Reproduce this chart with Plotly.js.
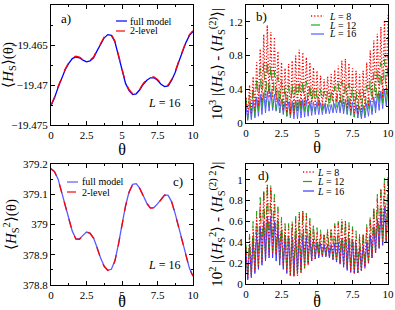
<!DOCTYPE html>
<html>
<head>
<meta charset="utf-8">
<script src="https://cdn.plot.ly/plotly-3.0.1.min.js"></script>
<style>
html,body{margin:0;padding:0;background:#fff;}
#chart{width:395px;height:310px;}
#chart svg text{font-family:"Liberation Serif","Times New Roman",serif !important;}
</style>
</head>
<body>
<div id="chart"></div>
<script>
// ---------- data ----------
const theta = [0,0.25,0.5,0.75,1,1.25,1.5,1.75,2,2.25,2.5,2.75,3,3.25,3.5,3.75,4,4.25,4.5,4.75,5,5.25,5.5,5.75,6,6.25,6.5,6.75,7,7.25,7.5,7.75,8,8.25,8.5,8.75,9,9.25,9.5,9.75,10];
const thetaMid = [0.125,0.375,0.625,0.875,1.125,1.375,1.625,1.875,2.125,2.375,2.625,2.875,3.125,3.375,3.625,3.875,4.125,4.375,4.625,4.875,5.125,5.375,5.625,5.875,6.125,6.375,6.625,6.875,7.125,7.375,7.625,7.875,8.125,8.375,8.625,8.875,9.125,9.375,9.625,9.875];

// panel a: <H_S>(theta), L = 16
const aFull = [-19.4726,-19.4716,-19.4703,-19.4691,-19.4681,-19.4673,-19.4667,-19.4665,-19.4666,-19.4669,-19.4671,-19.4670,-19.4666,-19.4657,-19.4648,-19.4641,-19.4637,-19.4638,-19.4646,-19.4663,-19.4683,-19.4698,-19.4707,-19.4712,-19.4711,-19.4706,-19.4699,-19.4694,-19.4691,-19.4691,-19.4694,-19.4699,-19.4702,-19.4701,-19.4694,-19.4684,-19.4671,-19.4658,-19.4647,-19.4638,-19.4633];
const aTwo  = [-19.4725,-19.4715,-19.4702,-19.4690,-19.4680,-19.4672,-19.4666,-19.4664,-19.4665,-19.4668,-19.4670,-19.4669,-19.4665,-19.4656,-19.4647,-19.4640,-19.4636,-19.4637,-19.4645,-19.4662,-19.4682,-19.4697,-19.4706,-19.4711,-19.4710,-19.4705,-19.4698,-19.4693,-19.4690,-19.4690,-19.4693,-19.4698,-19.4701,-19.4700,-19.4693,-19.4683,-19.4670,-19.4657,-19.4646,-19.4637,-19.4632];

// panel c: <H_S^2>(theta), L = 16
const cFull = [379.185,379.175,379.150,379.108,379.060,379.015,378.978,378.953,378.952,378.964,378.975,378.972,378.955,378.923,378.888,378.862,378.849,378.852,378.880,378.935,379.002,379.062,379.108,379.133,379.135,379.120,379.095,379.070,379.055,379.056,379.068,379.085,379.098,379.096,379.075,379.035,378.988,378.940,378.894,378.855,378.830];
const cTwo  = [379.184,379.174,379.149,379.107,379.059,379.014,378.977,378.952,378.951,378.963,378.974,378.971,378.954,378.922,378.887,378.861,378.848,378.851,378.879,378.934,379.001,379.061,379.107,379.132,379.134,379.119,379.094,379.069,379.054,379.055,379.067,379.084,379.097,379.095,379.074,379.034,378.987,378.939,378.893,378.854,378.829];

// panel b: 10^3 |<H_S> - <H_S^(2)>|  (peaks at theta, troughs at thetaMid)
const bL8peak  = [0.30,0.45,0.55,0.72,0.88,1.05,1.16,1.08,1.02,0.85,0.72,0.65,0.70,0.74,0.80,0.87,0.84,0.78,0.72,0.66,0.62,0.56,0.52,0.55,0.58,0.63,0.68,0.74,0.76,0.71,0.65,0.62,0.58,0.62,0.72,0.86,0.98,1.06,1.14,1.22,1.28];
const bL8low   = [0.10,0.12,0.15,0.20,0.25,0.30,0.30,0.28,0.25,0.20,0.15,0.12,0.10,0.12,0.15,0.18,0.20,0.22,0.22,0.20,0.20,0.20,0.22,0.24,0.25,0.25,0.24,0.20,0.17,0.14,0.12,0.11,0.13,0.16,0.20,0.25,0.30,0.30,0.30,0.35];
const bL12peak = [0.30,0.35,0.45,0.55,0.65,0.72,0.75,0.70,0.62,0.55,0.50,0.46,0.45,0.48,0.50,0.52,0.52,0.50,0.48,0.45,0.42,0.40,0.38,0.39,0.41,0.44,0.47,0.50,0.50,0.47,0.44,0.40,0.38,0.40,0.45,0.52,0.60,0.66,0.72,0.76,0.80];
const bL12low  = [0.05,0.06,0.08,0.10,0.14,0.18,0.20,0.18,0.15,0.12,0.10,0.08,0.06,0.07,0.09,0.10,0.12,0.13,0.14,0.14,0.14,0.15,0.15,0.16,0.16,0.16,0.15,0.13,0.11,0.09,0.07,0.06,0.07,0.09,0.12,0.15,0.18,0.20,0.22,0.24];
const bL16peak = [0.20,0.24,0.28,0.31,0.34,0.36,0.38,0.37,0.34,0.30,0.28,0.26,0.25,0.26,0.27,0.28,0.28,0.27,0.26,0.25,0.25,0.24,0.23,0.22,0.22,0.23,0.25,0.27,0.28,0.27,0.25,0.22,0.20,0.21,0.23,0.27,0.31,0.35,0.38,0.40,0.40];
const bL16low  = [0.03,0.04,0.06,0.08,0.10,0.12,0.14,0.15,0.14,0.12,0.10,0.08,0.06,0.05,0.05,0.06,0.07,0.08,0.09,0.10,0.10,0.10,0.11,0.11,0.12,0.12,0.12,0.11,0.10,0.09,0.07,0.06,0.05,0.06,0.08,0.10,0.12,0.15,0.17,0.20];

// panel d: 10^2 |<H_S^2> - <H_S^(2) 2>|
const dL8peak  = [0.35,0.45,0.55,0.65,0.78,0.88,0.95,0.92,0.82,0.70,0.60,0.55,0.55,0.58,0.62,0.67,0.70,0.66,0.60,0.55,0.50,0.48,0.48,0.50,0.53,0.56,0.59,0.62,0.60,0.57,0.53,0.48,0.45,0.48,0.54,0.62,0.72,0.82,0.90,0.96,1.00];
const dL8low   = [0.05,0.08,0.12,0.16,0.20,0.25,0.28,0.30,0.28,0.24,0.18,0.12,0.08,0.07,0.08,0.10,0.14,0.18,0.22,0.24,0.26,0.27,0.27,0.26,0.24,0.22,0.20,0.18,0.15,0.12,0.10,0.10,0.12,0.15,0.20,0.25,0.30,0.35,0.38,0.40];
const dL12peak = [0.38,0.48,0.60,0.70,0.83,0.93,0.98,0.96,0.86,0.74,0.64,0.58,0.58,0.61,0.65,0.69,0.72,0.68,0.63,0.58,0.54,0.52,0.51,0.53,0.55,0.58,0.60,0.63,0.62,0.59,0.55,0.51,0.48,0.51,0.57,0.66,0.76,0.86,0.95,1.02,1.06];
const dL12low  = [0.06,0.10,0.14,0.18,0.22,0.26,0.30,0.32,0.30,0.25,0.20,0.14,0.10,0.08,0.09,0.12,0.16,0.20,0.24,0.26,0.28,0.28,0.28,0.27,0.26,0.24,0.22,0.19,0.16,0.13,0.11,0.11,0.13,0.17,0.22,0.27,0.32,0.36,0.40,0.42];
const dL16peak = [0.30,0.38,0.45,0.50,0.55,0.60,0.65,0.65,0.60,0.55,0.50,0.47,0.45,0.45,0.46,0.47,0.47,0.46,0.45,0.43,0.40,0.39,0.38,0.38,0.38,0.39,0.40,0.43,0.45,0.44,0.42,0.38,0.35,0.37,0.40,0.47,0.55,0.62,0.70,0.74,0.76];
const dL16low  = [0.04,0.06,0.10,0.14,0.18,0.22,0.25,0.25,0.22,0.18,0.14,0.10,0.08,0.08,0.10,0.13,0.16,0.19,0.22,0.24,0.25,0.26,0.26,0.25,0.23,0.21,0.19,0.16,0.13,0.11,0.10,0.11,0.13,0.16,0.20,0.25,0.30,0.34,0.37,0.40];

// ---------- helpers ----------
function zig(peaks, lows) {
  const x = [], y = [];
  for (let i = 0; i < peaks.length; i++) {
    x.push(theta[i]); y.push(peaks[i]);
    if (i < lows.length) { x.push(thetaMid[i]); y.push(lows[i]); }
  }
  return {x, y};
}

const BLUE = '#0000ff', RED = '#ff0000', GREEN = '#1fa81f', LBLUE = '#5a5aff';
const DOT = '1.2px,2px';
const FONT = 'Liberation Serif';

function tr(x, y, xa, ya, color, dash, w) {
  return {x, y, xaxis: xa, yaxis: ya, type: 'scatter', mode: 'lines',
          line: {color, dash, width: w}, showlegend: false, hoverinfo: 'skip'};
}

const b8 = zig(bL8peak, bL8low), b12 = zig(bL12peak, bL12low), b16 = zig(bL16peak, bL16low);
const d8 = zig(dL8peak, dL8low), d12 = zig(dL12peak, dL12low), d16 = zig(dL16peak, dL16low);

const data = [
  tr(theta, aFull, 'x', 'y', BLUE, 'solid', 1.3),
  tr(theta, aTwo, 'x', 'y', RED, 'dash', 1.3),
  tr(b16.x, b16.y, 'x2', 'y2', LBLUE, 'solid', 1),
  tr(b12.x, b12.y, 'x2', 'y2', GREEN, 'dash', 1),
  tr(b8.x, b8.y, 'x2', 'y2', RED, DOT, 1.3),
  tr(theta, cFull, 'x3', 'y3', LBLUE, 'solid', 1.3),
  tr(theta, cTwo, 'x3', 'y3', RED, 'dash', 1.3),
  tr(d16.x, d16.y, 'x4', 'y4', '#3a3aff', 'solid', 1),
  tr(d12.x, d12.y, 'x4', 'y4', GREEN, 'dash', 1),
  tr(d8.x, d8.y, 'x4', 'y4', RED, DOT, 1.3)
];

const W = 395, H = 310;
const px = v => v / W, py = v => 1 - v / H;

function xax(dom, anchor) {
  return {domain: dom, anchor, range: [0, 10], tickvals: [0, 2.5, 5, 7.5, 10],
          ticktext: ['0', '2.5', '5', '7.5', '10'],
          ticks: 'inside', ticklen: 4, tickwidth: 1, tickcolor: '#000',
          minor: {dtick: 1.25, ticks: 'inside', ticklen: 2, tickcolor: '#000', tick0: 0},
          showline: true, linecolor: '#000', linewidth: 1, mirror: 'ticks',
          showgrid: false, zeroline: false,
          tickfont: {family: FONT, size: 11, color: '#000'},
          title: {text: 'θ', font: {family: FONT, size: 16, color: '#000'}, standoff: 1}};
}
function yax(dom, anchor, range, dtick, minorDtick, title, standoff) {
  return {domain: dom, anchor, range, dtick, tick0: 0,
          ticks: 'inside', ticklen: 4, tickwidth: 1, tickcolor: '#000',
          minor: {dtick: minorDtick, ticks: 'inside', ticklen: 2, tickcolor: '#000'},
          showline: true, linecolor: '#000', linewidth: 1, mirror: 'ticks',
          showgrid: false, zeroline: false,
          tickfont: {family: FONT, size: 11, color: '#000'},
          title: {text: title, font: {family: FONT, size: 15, color: '#000'}, standoff}};
}

const yA = yax([py(125), py(5)], 'x', [-19.475, -19.46], 0.005, 0.0025,
  '⟨<i>H</i><sub>S</sub>⟩(θ)', 2);
yA.tick0 = -19.475;
const yB = yax([py(123), py(5)], 'x2', [0, 1.4], 0.4, 0.2,
  '10<sup>3</sup> |⟨<i>H</i><sub>S</sub>⟩ - ⟨<i>H</i><sub>S</sub><sup>(2)</sup>⟩|', 2);
const yC = yax([py(285), py(164)], 'x3', [378.8, 379.2], 0.1, 0.05,
  '⟨<i>H</i><sub>S</sub><sup>2</sup>⟩(θ)', 2);
yC.tick0 = 378.8;
const yD = yax([py(284), py(164)], 'x4', [0, 1.15], 0.2, 0.1,
  '10<sup>2</sup> |⟨<i>H</i><sub>S</sub><sup>2</sup>⟩ - ⟨<i>H</i><sub>S</sub><sup>(2) 2</sup>⟩|', 2);

const layout = {
  width: W, height: H, margin: {l: 0, r: 0, t: 0, b: 0},
  paper_bgcolor: '#fff', plot_bgcolor: '#fff', showlegend: false,
  font: {family: FONT, color: '#000'},
  xaxis: xax([px(51), px(193)], 'y'),
  yaxis: yA,
  xaxis2: xax([px(246), px(388)], 'y2'),
  yaxis2: yB,
  xaxis3: xax([px(51), px(193)], 'y3'),
  yaxis3: yC,
  xaxis4: xax([px(246), px(388)], 'y4'),
  yaxis4: yD,
  shapes: [],
  annotations: []
};

function label(x, y, text, size) {
  layout.annotations.push({xref: 'paper', yref: 'paper', x: px(x), y: py(y),
    xanchor: 'left', yanchor: 'middle', showarrow: false, text,
    font: {family: FONT, size: size || 10, color: '#000'}});
}
function sample(x0, x1, y, color, dash, w) {
  layout.shapes.push({type: 'line', xref: 'paper', yref: 'paper',
    x0: px(x0), x1: px(x1), y0: py(y), y1: py(y),
    line: {color, dash, width: w || 1.2}});
}

// panel labels
label(59, 19, 'a)', 13);
label(254, 17, 'b)', 13);
label(171, 182, 'c)', 13);
label(256, 175, 'd)', 13);
label(146, 103, '<i>L</i> = 16', 12);
label(146, 265, '<i>L</i> = 16', 12);

// legends
sample(116, 127, 21, BLUE, 'solid'); label(128, 21, 'full model', 10);
sample(116, 127, 31, RED, 'dash');  label(128, 31, '2-level', 10);
sample(67, 78, 182, LBLUE, 'solid'); label(80, 182, 'full model', 10);
sample(67, 78, 192, RED, 'dash');    label(80, 192, '2-level', 10);

sample(311, 324, 16, RED, DOT, 1.3);    label(327, 16, '<i>L</i> = 8', 10);
sample(311, 324, 25, GREEN, 'dash'); label(327, 25, '<i>L</i> = 12', 10);
sample(311, 324, 34, LBLUE, 'solid'); label(327, 34, '<i>L</i> = 16', 10);

sample(303, 314, 172, RED, DOT, 1.3);    label(315, 172, '<i>L</i> = 8', 10);
sample(303, 314, 181.5, GREEN, 'dash'); label(315, 181.5, '<i>L</i> = 12', 10);
sample(303, 314, 191, '#3a3aff', 'solid'); label(315, 191, '<i>L</i> = 16', 10);

Plotly.newPlot('chart', data, layout, {staticPlot: true, displayModeBar: false});
</script>
</body>
</html>
